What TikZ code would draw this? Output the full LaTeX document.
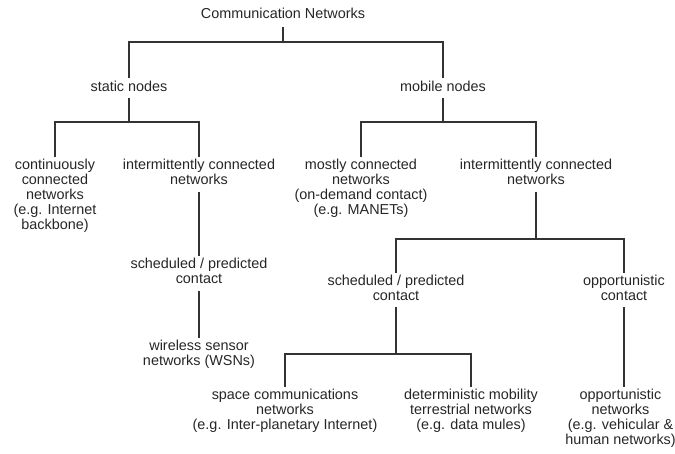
\documentclass[tikz,border=0pt]{standalone}
\usepackage{fontspec}
\setmainfont{Liberation Sans}
\definecolor{txt}{HTML}{262626}
\definecolor{ln}{HTML}{333333}
\begin{document}
\begin{tikzpicture}[x=1pt,y=-1pt,
  lbl/.style={font=\fontsize{14.4}{15}\selectfont, align=center, inner xsep=0pt, inner ysep=2.3pt,
    text=txt, execute at begin node=\strut, execute at end node=\strut},
  conn/.style={draw=ln, line width=1.4pt}]
\useasboundingbox (0,0) rectangle (675,453);
\node[lbl, inner ysep=4pt] (root) at (283,15.3) {Communication Networks};
\node[lbl] (static) at (129,88) {static nodes};
\node[lbl] (mobile) at (443,88) {mobile nodes};
\node[lbl] (cont) at (55,197) {continuously\\connected\\networks\\(e.g. Internet\\backbone)};
\node[lbl] (icn1) at (199,174.5) {intermittently connected\\networks};
\node[lbl] (sched1) at (199,273.5) {scheduled / predicted\\contact};
\node[lbl] (wsn) at (199,355.5) {wireless sensor\\networks (WSNs)};
\node[lbl] (mostly) at (361,189.5) {mostly connected\\networks\\(on-demand contact)\\(e.g. MANETs)};
\node[lbl] (icn2) at (536,174.5) {intermittently connected\\networks};
\node[lbl] (sched2) at (396,290) {scheduled / predicted\\contact};
\node[lbl] (opp) at (624,290) {opportunistic\\contact};
\node[lbl] (space) at (285,412) {space communications\\networks\\(e.g. Inter-planetary Internet)};
\node[lbl] (det) at (471,412) {deterministic mobility\\terrestrial networks\\(e.g. data mules)};
\node[lbl] (oppnet) at (620.5,419.5) {opportunistic\\networks\\(e.g. vehicular \&\\human networks)};
% connectors
\draw[conn] (root.south) -- (root.south |- 0,42);
\draw[conn] (static.north) |- (mobile.north |- 0,42) -- (mobile.north);
\draw[conn] (static.south) -- (static.south |- 0,122);
\draw[conn] (cont.north) |- (icn1.north |- 0,122) -- (icn1.north);
\draw[conn] (mobile.south) -- (mobile.south |- 0,122);
\draw[conn] (mostly.north) |- (icn2.north |- 0,122) -- (icn2.north);
\draw[conn] (icn1.south) -- (sched1.north);
\draw[conn] (sched1.south) -- (wsn.north);
\draw[conn] (icn2.south) -- (icn2.south |- 0,239);
\draw[conn] (sched2.north) |- (opp.north |- 0,239) -- (opp.north);
\draw[conn] (sched2.south) -- (sched2.south |- 0,354);
\draw[conn] (space.north) |- (det.north |- 0,354) -- (det.north);
\draw[conn] (opp.south) -- (opp.south |- oppnet.north);
\end{tikzpicture}
\end{document}
